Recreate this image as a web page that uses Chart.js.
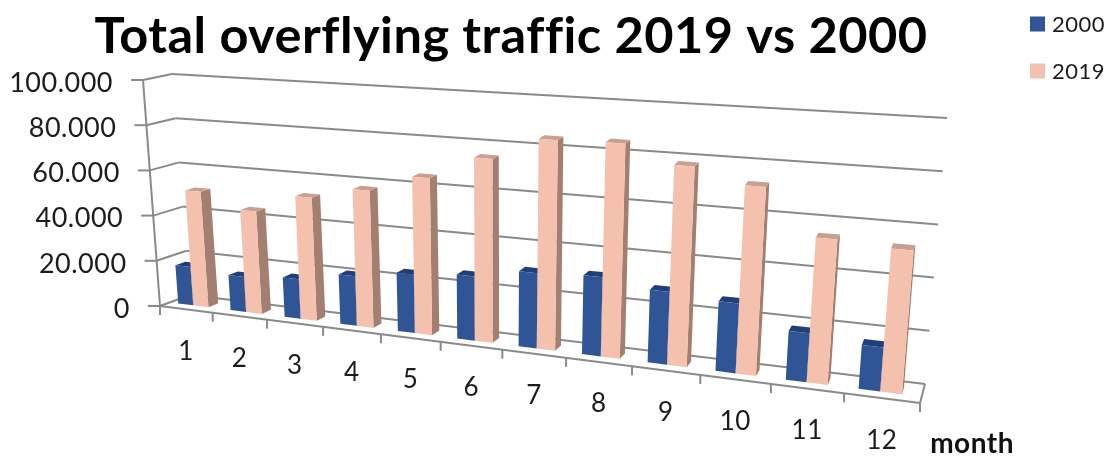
<!DOCTYPE html>
<html lang="en">
<head>
  <meta charset="UTF-8">
  <title>Total overflying traffic 2019 vs 2000</title>
  <style>
    body { margin: 0; background: #ffffff; }
    canvas { display: block; }
  </style>
</head>
<body>
  <canvas id="trafficChart" width="1112" height="461"></canvas>

  <script src="https://cdn.jsdelivr.net/npm/chart.js"></script>
  <script>
    const months = ['1', '2', '3', '4', '5', '6', '7', '8', '9', '10', '11', '12'];
    const traffic2000 = [17000, 15300, 17000, 21000, 24400, 26400, 30500, 31600, 28600, 27000, 18600, 16500];
    const traffic2019 = [50900, 44500, 52700, 58000, 65400, 75400, 85000, 85500, 78500, 72700, 55000, 53500];

    const FONT = 'Lato';
    const TEXT = '#1c1c1c';
    const GRID = '#8a8a8a';
    const FACES = [
      { side: '#1d3768', top: '#203f78' },
      { side: '#a37f71', top: '#c9a08f' }
    ];

    // corners of the 3D box: front/back, left/right, bottom/top
    const BOX = {
      flb: [160, 306], flt: [143, 80], blb: [190, 295], blt: [172, 74],
      frb: [920, 403], frt: [943, 131], brb: [925, 384], brt: [947, 118]
    };
    const PERSPECTIVE = 1.22;
    const BAR_FRONT = 0.33;
    const BAR_BACK = 0.67;
    const BAR_NUDGE = -0.004;

    const mix = (a, b, t) => [a[0] + (b[0] - a[0]) * t, a[1] + (b[1] - a[1]) * t];

    // u along the months, v up the value axis, d into the depth
    function project(u, v, d) {
      const s = u / (u + PERSPECTIVE * (1 - u));
      const front = mix(mix(BOX.flb, BOX.frb, s), mix(BOX.flt, BOX.frt, s), v);
      const back = mix(mix(BOX.blb, BOX.brb, s), mix(BOX.blt, BOX.brt, s), v);
      return mix(front, back, d);
    }

    function line(ctx, a, b) {
      ctx.beginPath();
      ctx.moveTo(a[0], a[1]);
      ctx.lineTo(b[0], b[1]);
      ctx.stroke();
    }

    function quad(ctx, pts, color) {
      ctx.fillStyle = color;
      ctx.beginPath();
      pts.forEach((p, i) => i ? ctx.lineTo(p[0], p[1]) : ctx.moveTo(p[0], p[1]));
      ctx.closePath();
      ctx.fill();
    }

    const box3d = {
      id: 'box3d',
      // slight tracking, also keeps "traffic" from collapsing into a ligature
      beforeUpdate(chart) {
        chart.ctx.letterSpacing = '0.5px';
      },
      beforeDatasetsDraw(chart) {
        const ctx = chart.ctx;
        const area = chart.chartArea;
        const yScale = chart.scales.y;
        const xScale = chart.scales.x;
        const toV = px => (area.bottom - px) / area.height;
        const toU = px => (px - area.left) / area.width;

        ctx.save();
        ctx.strokeStyle = GRID;
        ctx.lineWidth = 2;

        // value gridlines, side wall, ticks and labels
        ctx.font = '27px ' + FONT;
        ctx.textAlign = 'right';
        ctx.textBaseline = 'middle';
        yScale.ticks.forEach((tick, i) => {
          const v = toV(yScale.getPixelForTick(i));
          const frontLeft = project(0, v, 0);
          const backLeft = project(0, v, 1);
          line(ctx, backLeft, project(1, v, 1));
          line(ctx, frontLeft, backLeft);
          line(ctx, [frontLeft[0] - 12, frontLeft[1]], frontLeft);
          ctx.fillStyle = TEXT;
          ctx.fillText(tick.label, frontLeft[0] - 30, frontLeft[1] + 3);
        });

        // floor edges and value axis
        line(ctx, project(0, 0, 0), project(1, 0, 0));
        line(ctx, project(1, 0, 0), project(1, 0, 1));
        line(ctx, project(0, 0, 0), project(0, 1, 0));

        // month ticks and labels follow the front edge
        ctx.font = '26px ' + FONT;
        ctx.textAlign = 'center';
        months.forEach((m, i) => {
          const edge = project(i / months.length, 0, 0);
          line(ctx, edge, [edge[0], edge[1] + 9]);
          const mid = project(toU(xScale.getPixelForTick(i)), 0, 0);
          ctx.fillStyle = TEXT;
          ctx.fillText(xScale.getLabelForValue(i), mid[0], mid[1] + 42);
        });
        const last = project(1, 0, 0);
        line(ctx, last, [last[0], last[1] + 9]);

        // bars, left to right, each series in front of the one on its left
        months.forEach((m, i) => {
          chart.data.datasets.forEach((ds, k) => {
            const el = chart.getDatasetMeta(k).data[i];
            const u0 = toU(el.x - el.width / 2) + BAR_NUDGE;
            const u1 = toU(el.x + el.width / 2) + BAR_NUDGE;
            const v = toV(el.y);
            const vBase = toV(el.base);
            quad(ctx, [project(u1, vBase, BAR_FRONT), project(u1, vBase, BAR_BACK),
                       project(u1, v, BAR_BACK), project(u1, v, BAR_FRONT)], FACES[k].side);
            quad(ctx, [project(u0, v, BAR_FRONT), project(u1, v, BAR_FRONT),
                       project(u1, v, BAR_BACK), project(u0, v, BAR_BACK)], FACES[k].top);
            quad(ctx, [project(u0, vBase, BAR_FRONT), project(u1, vBase, BAR_FRONT),
                       project(u1, v, BAR_FRONT), project(u0, v, BAR_FRONT)], ds.backgroundColor);
          });
        });

        // legend, top right
        ctx.font = '22px ' + FONT;
        ctx.textAlign = 'left';
        chart.data.datasets.forEach((ds, k) => {
          const y = 24 + k * 47;
          ctx.fillStyle = ds.backgroundColor;
          ctx.fillRect(1030, y - 7.5, 15, 15);
          ctx.fillStyle = TEXT;
          ctx.fillText(ds.label, 1052, y + 1);
        });

        ctx.restore();
        return false; // the flat bars are replaced by the ones above
      }
    };

    new Chart(document.getElementById('trafficChart'), {
      type: 'bar',
      data: {
        labels: months,
        datasets: [
          { label: '2000', data: traffic2000, backgroundColor: '#2f5597' },
          { label: '2019', data: traffic2019, backgroundColor: '#f4c1ae' }
        ]
      },
      options: {
        responsive: false,
        animation: false,
        categoryPercentage: 0.58,
        barPercentage: 1,
        layout: { padding: { right: 98, bottom: 0 } },
        scales: {
          x: {
            grid: { display: false },
            border: { display: false },
            ticks: { display: false },
            title: {
              display: true,
              text: 'month',
              align: 'end',
              color: '#111111',
              font: { family: FONT, size: 28, weight: 'bold' },
              padding: { top: 0, bottom: 0 }
            }
          },
          y: {
            min: 0,
            max: 100000,
            grid: { display: false },
            border: { display: false },
            ticks: {
              display: false,
              stepSize: 20000,
              callback: v => String(v).replace(/\B(?=(\d{3})+$)/g, '.')
            }
          }
        },
        plugins: {
          tooltip: { enabled: false },
          legend: { display: false },
          title: {
            display: true,
            text: 'Total overflying traffic 2019 vs 2000',
            fullSize: false,
            color: '#000000',
            font: { family: FONT, size: 50.5, weight: 'bold' },
            padding: { top: 6, bottom: 5 }
          }
        }
      },
      plugins: [box3d]
    });
  </script>
</body>
</html>
